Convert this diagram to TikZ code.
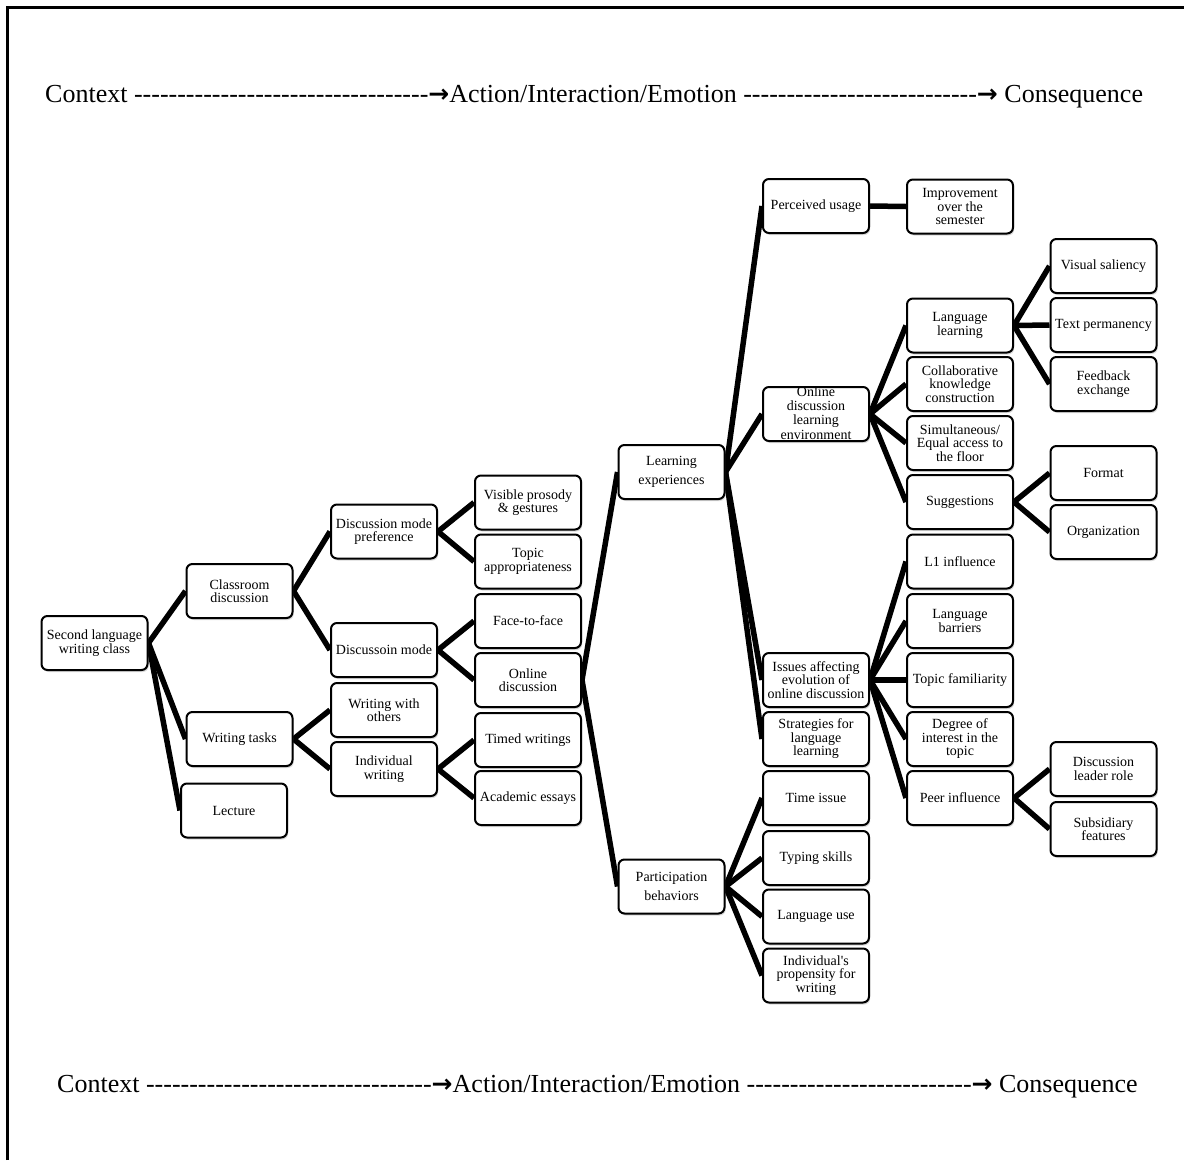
\documentclass[tikz,border=0pt]{standalone}
\usepackage{fontspec}
\setmainfont{Liberation Serif}[Ligatures=TeXOff]
\newfontfamily\arrowfont{DejaVu Sans}
\usetikzlibrary{shadows}
\pgfdeclarelayer{background}
\pgfsetlayers{background,main}

\ExplSyntaxOn
\NewDocumentCommand\hyphens{m}{\prg_replicate:nn{#1}{-}}
\ExplSyntaxOff
\newcommand\flowarrow{{\arrowfont\bfseries\fontsize{25}{26}\selectfont →}}

\tikzset{
  box/.style={draw, line width=2pt, rounded corners=6pt, fill=white,
    minimum width=106pt, minimum height=54pt, inner sep=1pt, align=center,
    font=\fontsize{14}{13.5}\selectfont,
    drop shadow={shadow xshift=1.2pt, shadow yshift=-2pt, opacity=0.3}},
  loose/.style={font=\fontsize{14}{19.5}\selectfont},
  boxtext/.style={align=center, inner sep=0pt, font=\fontsize{14}{14.3}\selectfont},
  link/.style={line width=5.5pt},
  hdr/.style={inner sep=0pt, font=\fontsize{26}{28}\selectfont},
}

\begin{document}
\begin{tikzpicture}[x=1pt, y=-1pt]
\useasboundingbox (0,0) rectangle (1184,1160);

% frame
\draw[line width=3pt] (7,1160) -- (7,7) -- (1184,7);

% flow headers
\node[hdr, anchor=west] (toprow) at (45,97)
  {Context \hyphens{34}\flowarrow Action/Interaction/Emotion \hyphens{27}\flowarrow\ Consequence};
\node[hdr, anchor=west] (botrow) at (57,1087)
  {Context \hyphens{33}\flowarrow Action/Interaction/Emotion \hyphens{26}\flowarrow\ Consequence};

% column 1-2
\node[box] (sl)  at (94.5,643) {Second language\\writing class};
\node[box] (cd)  at (239.5,591) {Classroom\\discussion};
\node[box] (wt)  at (239.5,739) {Writing tasks};
\node[box] (lec) at (234,810.5) {Lecture};
% column 3
\node[box] (dmp) at (384,531.5) {Discussion mode\\preference};
\node[box] (dm)  at (384,650) {Discussoin mode};
\node[box] (wwo) at (384,710) {Writing with\\others};
\node[box] (iw)  at (384,769) {Individual\\writing};
% column 4
\node[box] (vp)  at (528,502.5) {Visible prosody\\\& gestures};
\node[box] (ta)  at (528,561.5) {Topic\\appropriateness};
\node[box] (ftf) at (528,621) {Face-to-face};
\node[box] (od)  at (528,680) {Online\\discussion};
\node[box] (tw)  at (528,740) {Timed writings};
\node[box] (ae)  at (528,798) {Academic essays};
% column 5
\node[box, loose] (le) at (671.5,472) {Learning\\experiences};
\node[box, loose] (pb) at (671.5,886.5) {Participation\\behaviors};
% column 6
\node[box] (pu)   at (816,206) {Perceived usage};
\node[box] (odle) at (816,414) {};
\node[boxtext] at (816,413) {Online\\discussion\\learning\\environment};
\node[box] (iaf)  at (816,680) {Issues affecting\\evolution of\\online discussion};
\node[box] (sfl)  at (816,739) {Strategies for\\language\\learning};
\node[box] (ti)   at (816,798) {Time issue};
\node[box] (ts)   at (816,858) {Typing skills};
\node[box] (lu)   at (816,916.5) {Language use};
\node[box] (ip)   at (816,975.5) {Individual's\\propensity for\\writing};
% column 7
\node[box] (imp) at (960,206.5) {Improvement\\over the\\semester};
\node[box] (ll)  at (960,325.5) {Language\\learning};
\node[box] (ckc) at (960,384) {Collaborative\\knowledge\\construction};
\node[box] (sim) at (960,443) {Simultaneous/\\Equal access to\\the floor};
\node[box] (sug) at (960,502) {Suggestions};
\node[box] (l1)  at (960,561.5) {L1 influence};
\node[box] (lb)  at (960,621) {Language\\barriers};
\node[box] (tf)  at (960,680) {Topic familiarity};
\node[box] (doi) at (960,739) {Degree of\\interest in the\\topic};
\node[box] (pi)  at (960,798) {Peer influence};
% column 8
\node[box] (vs)  at (1103.5,266) {Visual saliency};
\node[box] (tp)  at (1103.5,325) {Text permanency};
\node[box] (fe)  at (1103.5,384) {Feedback\\exchange};
\node[box] (fmt) at (1103.5,473) {Format};
\node[box] (org) at (1103.5,532) {Organization};
\node[box] (dlr) at (1103.5,769) {Discussion\\leader role};
\node[box] (sf)  at (1103.5,829) {Subsidiary\\features};

% connectors
\begin{pgfonlayer}{background}
\foreach \a/\b in {sl/cd, sl/wt, sl/lec, cd/dmp, cd/dm, wt/wwo, wt/iw,
  dmp/vp, dmp/ta, dm/ftf, dm/od, iw/tw, iw/ae, od/le, od/pb,
  le/pu, le/odle, le/iaf, le/sfl, pb/ti, pb/ts, pb/lu, pb/ip, pu/imp,
  odle/ll, odle/ckc, odle/sim, odle/sug, ll/vs, ll/tp, ll/fe, sug/fmt, sug/org,
  iaf/l1, iaf/lb, iaf/tf, iaf/doi, iaf/pi, pi/dlr, pi/sf}
  \draw[link] (\a.east) -- (\b.west);
\end{pgfonlayer}
\end{tikzpicture}
\end{document}
